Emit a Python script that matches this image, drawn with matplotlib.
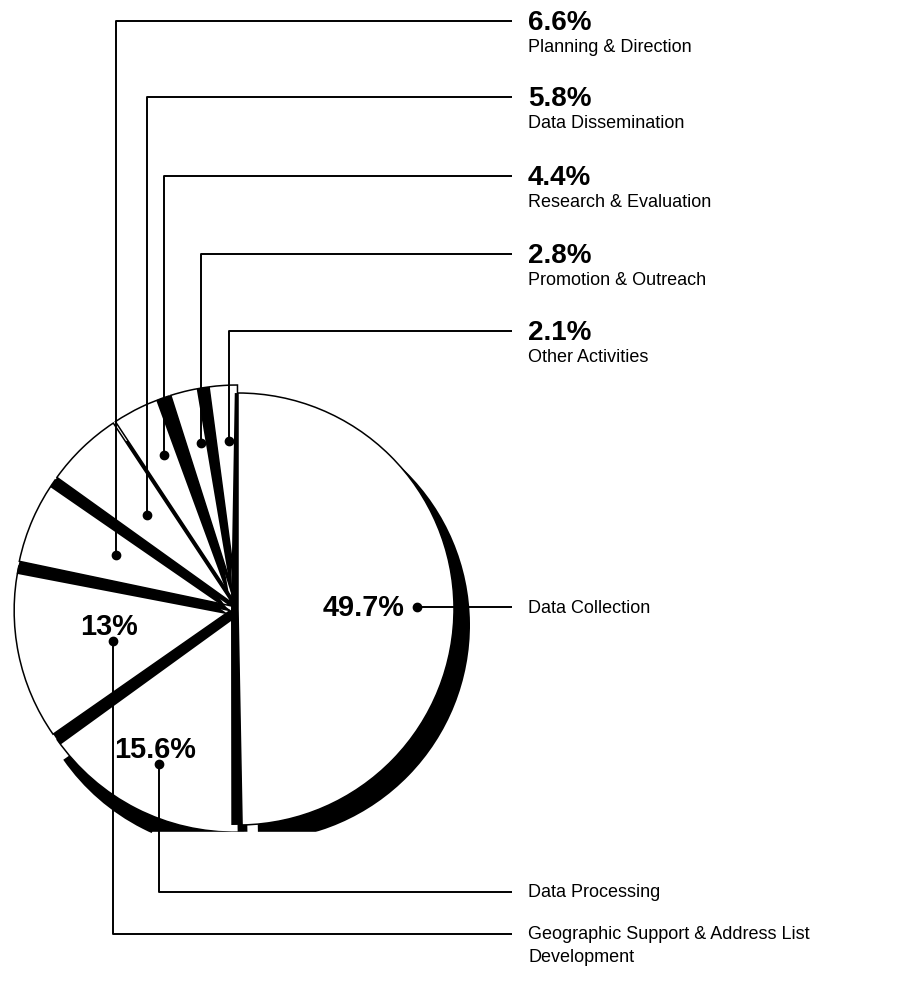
import matplotlib
matplotlib.use("Agg")
import matplotlib.pyplot as plt
import numpy as np

# slices, clockwise from 12 o'clock
labels = ["Data Collection", "Data Processing",
          "Geographic Support & Address List\nDevelopment",
          "Planning & Direction", "Data Dissemination",
          "Research & Evaluation", "Promotion & Outreach", "Other Activities"]
shares = [49.7, 15.6, 13, 6.6, 5.8, 4.4, 2.8, 2.1]
pct_labels = ["49.7%", "15.6%", "13%", "6.6%", "5.8%", "4.4%", "2.8%", "2.1%"]

plt.rcParams["font.family"] = ["Liberation Sans", "DejaVu Sans"]

W, H = 918, 987
fig = plt.figure(figsize=(W / 100, H / 100), dpi=100)
ax = fig.add_axes([0, 0, 1, 1])

cx, cy, R = 238, H - 610, 216
explode = [0, 8, 8, 8, 8, 8, 8, 8]
pie_kw = dict(startangle=90, counterclock=False, radius=R, center=(cx, cy),
              explode=explode, frame=True)

# stacking: data processing lowest ... data collection on top
stack = [7, 0, 1, 2, 3, 4, 5, 6]
# black band along each slice's leading edge: shift (px) and twist (deg)
band_shift = [7, 9, 9, 9, 8, 0, 6, 5]
band_rot = [-1, 0, 1, 1, 1, 0, 2.5, 2]
# depth shadow offset per slice (px)
depth_dx = [16, 6, 16, 16, 16, 16, 16, 16]
depth_dy = [-16, -20, -16, -16, -16, -16, -16, -16]

# depth shadow under everything
depth, _ = ax.pie(shares, colors=["black"] * 8, wedgeprops=dict(linewidth=0), **pie_kw)
for w, dx, dy in zip(depth, depth_dx, depth_dy):
    w.set_center((w.center[0] + dx, w.center[1] + dy))
    w.set_zorder(1)

edge, _ = ax.pie(shares, colors=["black"] * 8, wedgeprops=dict(linewidth=0), **pie_kw)
for w, k, s, r in zip(edge, stack, band_shift, band_rot):
    a = np.deg2rad(w.theta2)
    w.set_center((w.center[0] - s * np.sin(a), w.center[1] + s * np.cos(a)))
    w.set_theta1(w.theta1 + r)
    w.set_theta2(w.theta2 + r)
    w.set_zorder(2 + 2 * k)

wedges, _ = ax.pie(shares, colors=["white"] * 8,
                   wedgeprops=dict(edgecolor="black", linewidth=1.1), **pie_kw)
for w, k in zip(wedges, stack):
    w.set_zorder(2.5 + 2 * k)

# scan gap across the bottom of the pie
ax.add_patch(plt.Rectangle((152, H - 858), 200, 25, color="white", zorder=20))

# dot inside each slice: angular position (0 = leading edge) and radius fraction
dot_t = [0.5, 0.5, 0.43, 0.5, 0.5, 0.5, 0.5, 0.6]
dot_r = [0.83, 0.77, 0.56, 0.58, 0.57, 0.755, 0.75, 0.74]
dots = []
for w, t, f in zip(wedges, dot_t, dot_r):
    a = np.deg2rad(w.theta2 + t * (w.theta1 - w.theta2))
    dots.append((w.center[0] + f * R * np.cos(a), w.center[1] + f * R * np.sin(a)))

line_end, text_x = 512, 528
lk = dict(color="black", lw=1.4, zorder=25, solid_capstyle="butt")
bold = dict(fontsize=20, fontweight="bold", zorder=26)
reg = dict(fontsize=13, zorder=26)

# small slices: label rows at the top right
top_rows = [22, 98, 177, 255, 332]
for i, row in zip(range(3, 8), top_rows):
    x, y = dots[i]
    yr = H - row
    ax.plot([x, x, line_end], [y, yr, yr], **lk)
    ax.plot(x, y, "o", color="black", ms=6, zorder=26)
    ax.text(text_x, yr - 1, pct_labels[i], va="center", ha="left", **bold)
    ax.text(text_x, yr - 26, labels[i], va="center", ha="left", **reg)

# data collection
x, y = dots[0]
ax.plot([x, line_end], [y, y], **lk)
ax.plot(x, y, "o", color="black", ms=6, zorder=26)
ax.text(x - 13, y, pct_labels[0], ha="right", va="center",
        fontsize=20.8, fontweight="bold", zorder=26)
ax.text(text_x, y, labels[0], ha="left", va="center", **reg)

# data processing and geographic support run down to the bottom
for i, row in [(1, 893), (2, 935)]:
    x, y = dots[i]
    yr = H - row
    ax.plot([x, x, line_end], [y, yr, yr], **lk)
    ax.plot(x, y, "o", color="black", ms=6, zorder=26)
    ax.text(x - 4, y + 15, pct_labels[i], ha="center", va="center",
            fontsize=20.8, fontweight="bold", zorder=26)
    ax.text(text_x, yr + 9, labels[i], ha="left", va="top", linespacing=1.5, **reg)

ax.set_xlim(0, W)
ax.set_ylim(0, H)
ax.set_aspect("equal")
ax.axis("off")
fig.savefig("out.png", dpi=100, facecolor="white")
